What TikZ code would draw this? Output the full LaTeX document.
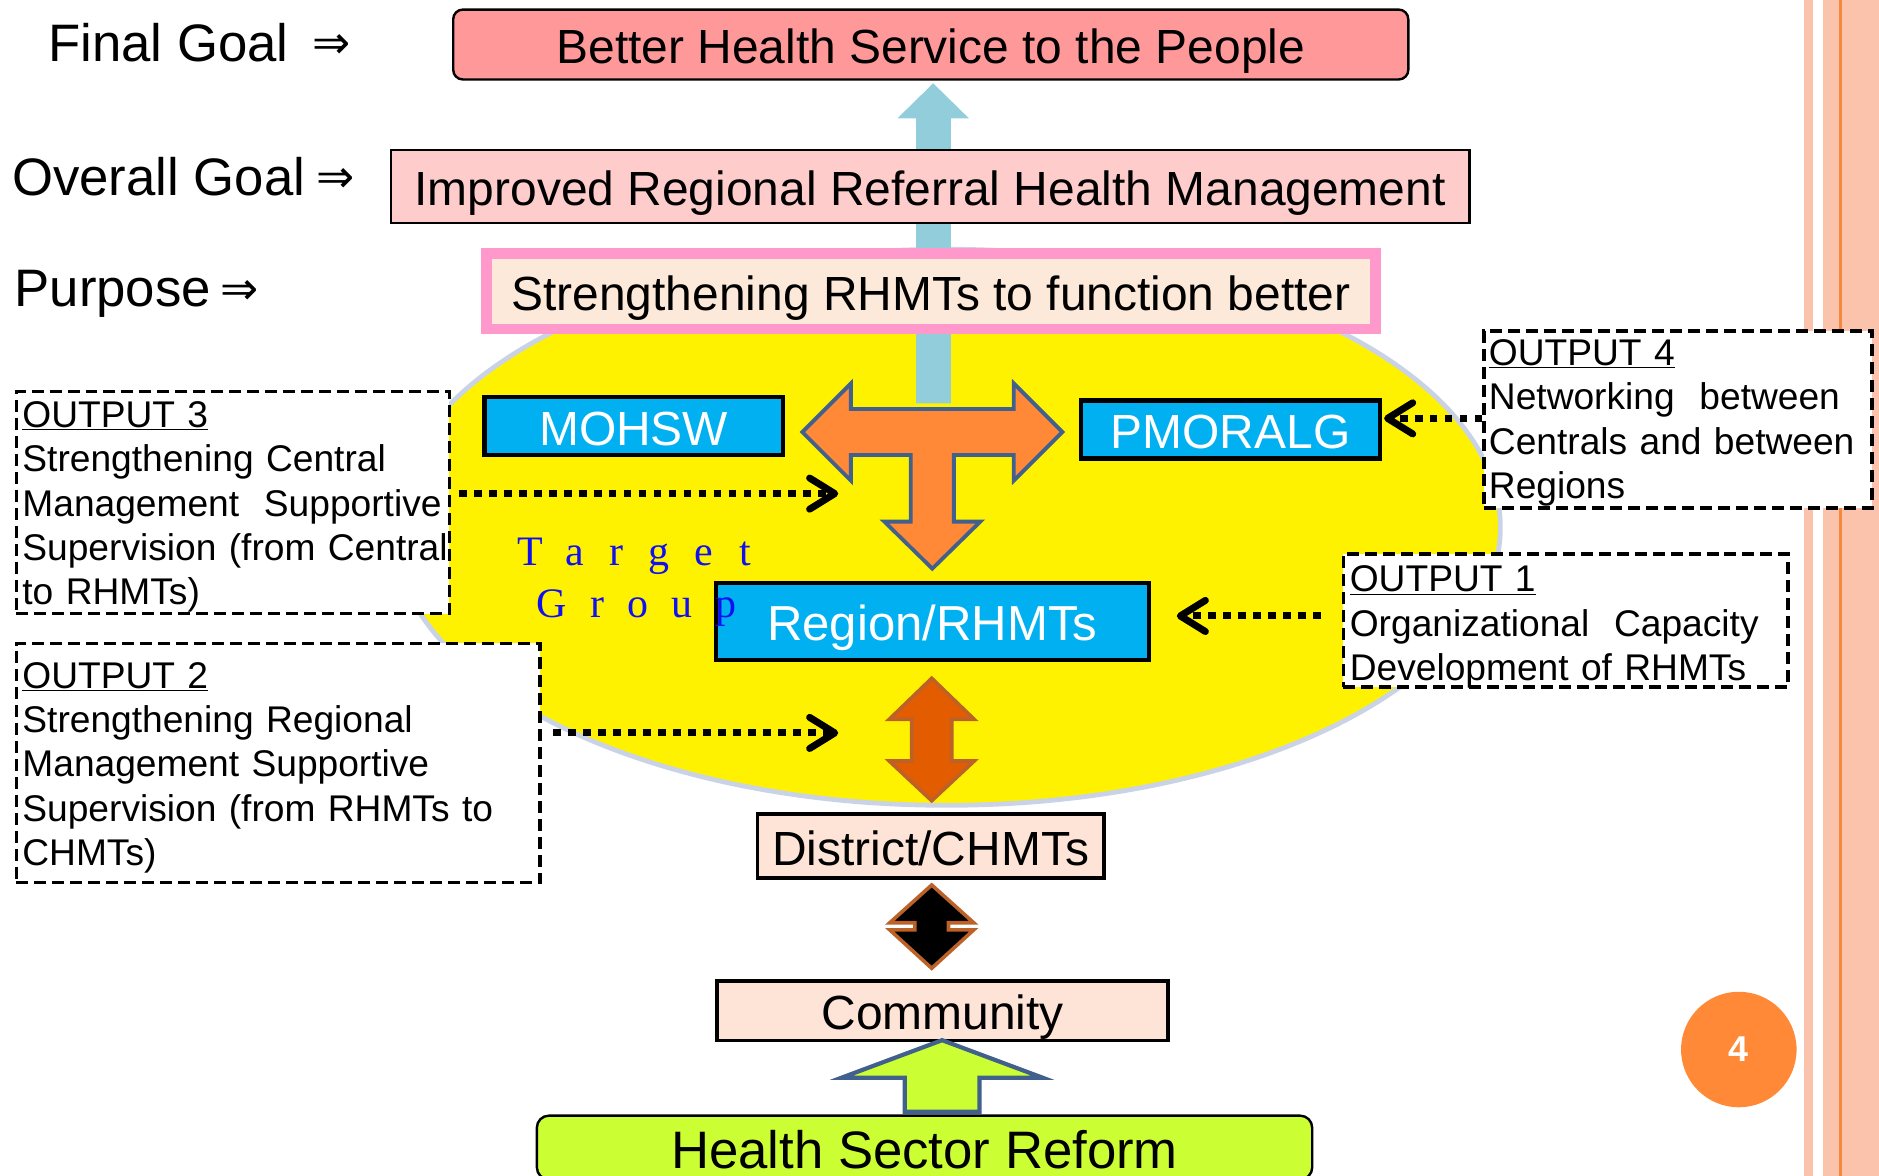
\documentclass[tikz,border=0pt]{standalone}
\usepackage{fontspec}
\setmainfont{Liberation Sans}
\newfontfamily\arrowfont{DejaVu Sans}
\newfontfamily\tgAfont[LetterSpace=61]{Liberation Serif}
\newfontfamily\tgBfont[LetterSpace=55]{Liberation Serif}
\newcommand\myimplies{\raisebox{2pt}{\arrowfont\fontsize{38}{44}\selectfont ⇒}}
\usetikzlibrary{arrows.meta}
\definecolor{bhfill}{HTML}{FF9999}
\definecolor{impfill}{HTML}{FFCCCC}
\definecolor{pinkborder}{HTML}{FF99CC}
\definecolor{purposefill}{HTML}{FDE9D9}
\definecolor{peach}{HTML}{FDE4D6}
\definecolor{cyanbox}{HTML}{00B0F0}
\definecolor{lightblue}{HTML}{92CDDC}
\definecolor{torange}{HTML}{FF8936}
\definecolor{tborder}{HTML}{41618C}
\definecolor{darkor}{HTML}{E45C00}
\definecolor{darkorborder}{HTML}{BC6128}
\definecolor{greenf}{HTML}{CCFF33}
\definecolor{ellborder}{HTML}{CAD2E5}
\definecolor{stripe}{HTML}{FBC3AB}
\definecolor{stripeline}{HTML}{F7893C}
\definecolor{pgorange}{HTML}{FF8936}
\definecolor{tgblue}{HTML}{1010F0}
\begin{document}
\begin{tikzpicture}[x=1pt,y=-1pt,
  lbl/.style={font=\fontsize{44}{52}\selectfont, inner sep=0pt, anchor=base west},
  mainbox/.style={draw=black, line width=2pt, inner sep=0pt, text height=40pt, text depth=8.4pt, font=\fontsize{40}{48}\selectfont},
  bigtext/.style={font=\fontsize{44}{52}\selectfont, text height=44pt, text depth=9.2pt},
  bluebox/.style={mainbox, fill=cyanbox, text=white, line width=3.5pt},
  peachbox/.style={mainbox, fill=peach, line width=3pt},
  outbox/.style={draw=black, fill=white, line width=3pt, dash pattern=on 10pt off 5pt, inner sep=0pt},
  outtext/.style={font=\fontsize{31}{37}\selectfont, text width=430pt, align=left, inner sep=0pt, anchor=base west},
  dotarrow/.style={line width=5.8pt, dash pattern=on 6.5pt off 6pt, -{Straight Barb[length=21pt,width=26pt,line width=5.8pt,round]}},
  fatarrow/.style={line join=miter, line width=3.2pt},
  tgtext/.style={text=tgblue, inner sep=0pt, anchor=base west}
]
\useasboundingbox (0,0) rectangle (1568,980.6);
\clip (0,0) rectangle (1568,980.6);

% right-hand stripes
\fill[stripe] (1505,0) rectangle (1513,981);
\fill[stripe] (1521.6,0) rectangle (1568,981);
\fill[stripeline] (1534.4,0) rectangle (1537.2,981);

% yellow ellipse
\draw[fill=yellow, draw=ellborder, line width=4pt] (790,440) ellipse [x radius=462pt, y radius=232pt];

% light blue upward arrow
\fill[lightblue] (764.5,336.6) -- (764.5,98.7) -- (749,98.7) -- (778.7,69.5) -- (808.5,98.7) -- (793.5,98.7) -- (793.5,336.6) -- cycle;

% goal boxes
\node[mainbox, fill=bhfill, rounded corners=8pt, minimum width=797pt, minimum height=58.3pt] (better) at (776.7,37.15) {Better Health Service to the People};
\node[mainbox, fill=impfill, minimum width=900pt, minimum height=60.9pt] (improved) at (776.2,155.75) {Improved Regional Referral Health Management};
\node[mainbox, draw=pinkborder, fill=purposefill, line width=9pt, minimum width=741.4pt, minimum height=62.8pt] (purpose) at (776.9,243.1) {Strengthening RHMTs to function better};

% left labels
\node[lbl] (lfinal) at (40,51) {Final Goal\hspace{20pt}\myimplies};
\node[lbl] (loverall) at (10,163) {Overall Goal\hspace{9pt}\myimplies};
\node[lbl] (lpurpose) at (12,256) {Purpose\hspace{8pt}\myimplies};

% orange T arrow
\draw[fatarrow, fill=torange, draw=tborder]
  (669.5,360.5) -- (710,320) -- (710,341.3) -- (846,341.3) -- (846,320) -- (886.5,360.5)
  -- (846,401) -- (846,379.7) -- (796,379.7) -- (796,435.3) -- (818,435.3) -- (778,474.5)
  -- (738,435.3) -- (760,435.3) -- (760,379.7) -- (710,379.7) -- (710,401) -- cycle;

% blue boxes
\node[bluebox, minimum width=249pt, minimum height=47.3pt] (mohsw) at (528.75,355.6) {MOHSW};
\node[bluebox, minimum width=249.1pt, minimum height=48.5pt] (pmoralg) at (1026.8,358.4) {PMORALG};
\node[bluebox, font=\fontsize{41}{48}\selectfont, text height=41pt, text depth=8.6pt, minimum width=361.6pt, minimum height=64.1pt] (region) at (778,518.4) {Region/RHMTs};

% dark orange double arrow
\draw[fatarrow, line width=3pt, fill=darkor, draw=darkorborder]
  (777.5,566) -- (813,600.3) -- (794.2,600.3) -- (794.2,635) -- (813,635) -- (777.5,668.2)
  -- (742,635) -- (760.8,635) -- (760.8,600.3) -- (742,600.3) -- cycle;

% district box
\node[peachbox, minimum width=289.1pt, minimum height=53.4pt] (district) at (776.5,706.2) {District/CHMTs};

% black diamond double arrow
\draw[fatarrow, line width=3pt, fill=black, draw=darkorborder]
  (777.5,738.5) -- (812.5,770) -- (791.5,770) -- (791.5,776) -- (812.5,776) -- (777.5,808)
  -- (742.5,776) -- (763.5,776) -- (763.5,770) -- (742.5,770) -- cycle;

% community box
\node[peachbox, minimum width=376.4pt, minimum height=49.5pt] (community) at (786.7,843.55) {Community};

% green up arrow
\draw[fatarrow, line width=3.5pt, fill=greenf, draw=tborder]
  (786.2,868) -- (870,899.3) -- (817.3,899.3) -- (817.3,927.7) -- (755,927.7) -- (755,899.3) -- (702.3,899.3) -- cycle;

% health sector reform box
\node[mainbox, bigtext, fill=greenf, rounded corners=10pt, minimum width=647pt, minimum height=49.4pt] (hsr) at (771.5,957.6) {Health Sector Reform};

% output boxes
\node[outbox, minimum width=361.2pt, minimum height=185.2pt] (o3) at (194.35,419.35) {};
\node[outtext] (o3t) at (18.5,356.8) {\underline{OUTPUT 3}\\Strengthening Central\\Management~ Supportive\\Supervision (from Central\\to RHMTs)};
\node[outbox, minimum width=436.8pt, minimum height=199.6pt] (o2) at (232.15,636.65) {};
\node[outtext] (o2t) at (18.5,574.3) {\underline{OUTPUT 2}\\Strengthening Regional\\Management Supportive\\Supervision (from RHMTs to\\CHMTs)};
\node[outbox, minimum width=323.7pt, minimum height=147.7pt] (o4) at (1400.4,349.9) {};
\node[outtext] (o4t) at (1242.3,305.1) {\underline{OUTPUT 4}\\Networking~ between\\Centrals and between\\Regions};
\node[outbox, minimum width=371.2pt, minimum height=110.7pt] (o1) at (1306.55,517.8) {};
\node[outtext] (o1t) at (1126.2,493.8) {\underline{OUTPUT 1}\\Organizational~ Capacity\\Development of RHMTs};

% dotted arrows
\coordinate (t3) at (699.5,411.9);
\coordinate (t2) at (699.5,611.6);
\coordinate (t4) at (1155,349.1);
\coordinate (t1) at (982,514);
\draw[dotarrow, shorten <=6.5pt] (o3.east |- t3) -- (t3);
\draw[dotarrow, shorten <=9.5pt] (o2.east |- t2) -- (t2);
\draw[dotarrow] (o4.west |- t4) -- (t4);
\draw[dotarrow, shorten <=17.5pt] (o1.west |- t1) -- (t1);

% Target Group
\node[tgtext, font=\tgAfont\fontsize{35}{42}\selectfont] (tg1) at (431.3,472.1) {Target};
\node[tgtext, font=\tgBfont\fontsize{35}{42}\selectfont] (tg2) at (447.8,515) {Group};

% page number
\node[circle, fill=pgorange, minimum size=96.4pt, inner sep=0pt, text=white, font=\bfseries\fontsize{30}{36}\selectfont] (pg) at (1451,875.8) {4};
\end{tikzpicture}
\end{document}
